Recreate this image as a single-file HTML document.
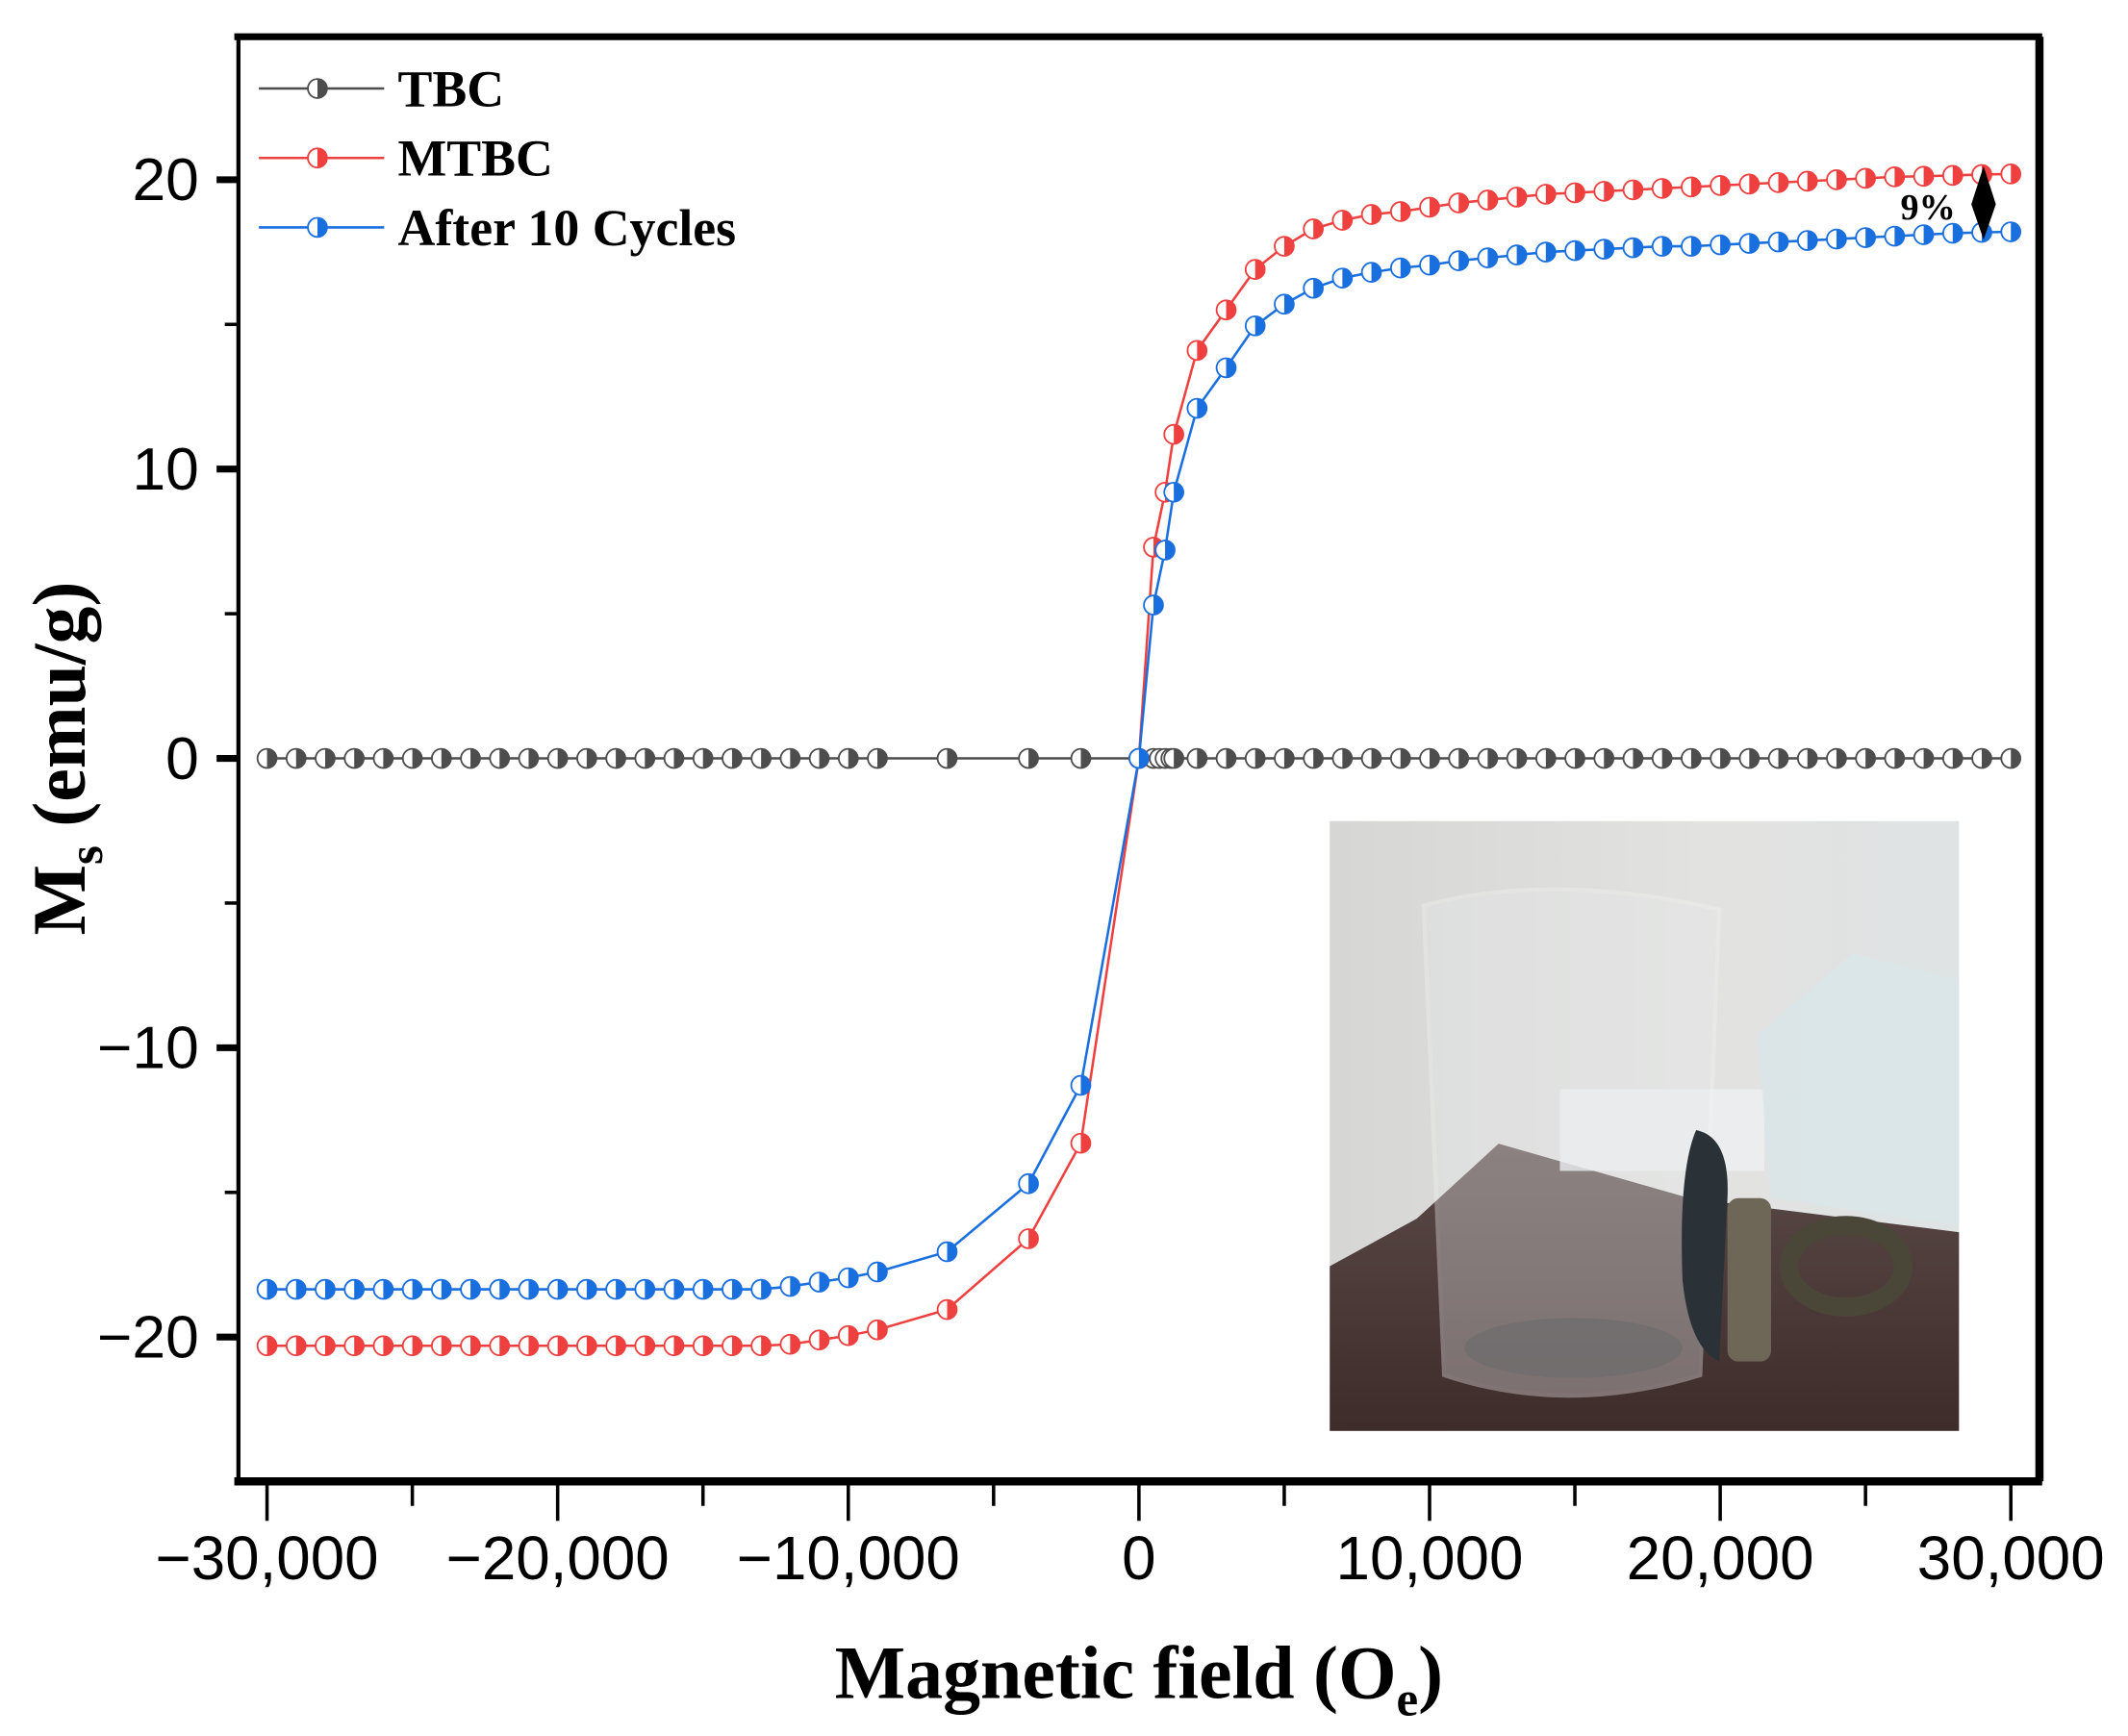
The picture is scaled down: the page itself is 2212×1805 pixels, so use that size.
<!DOCTYPE html>
<html><head><meta charset="utf-8"><style>
html,body{margin:0;padding:0;background:#fff;}
svg{display:block;}
</style></head><body>
<svg id="chart" width="2212" height="1805" viewBox="0 0 1562 1275" preserveAspectRatio="none" xmlns="http://www.w3.org/2000/svg">
<defs>
<linearGradient id="wall" x1="0" y1="0" x2="1" y2="0"><stop offset="0" stop-color="#d6d6d4"/><stop offset="0.6" stop-color="#e2e2e0"/><stop offset="1" stop-color="#dfe3e4"/></linearGradient>
<linearGradient id="table" x1="0" y1="0" x2="0" y2="1"><stop offset="0" stop-color="#5a4a48"/><stop offset="1" stop-color="#3e2c2a"/></linearGradient>
<clipPath id="photoClip"><rect x="976" y="603" width="462" height="448"/></clipPath>
</defs>
<g id="inset" clip-path="url(#photoClip)">
<rect x="976" y="603" width="462" height="448" fill="url(#wall)"/>
<polygon points="976,930 1040,895 1100,840 1240,880 1438,905 1438,1051 976,1051" fill="url(#table)"/>
<rect x="1145" y="800" width="150" height="60" fill="#eef0f2" opacity="0.8"/>
<polygon points="1290,760 1360,700 1438,720 1438,900 1300,880" fill="#d9e6ea" opacity="0.8"/>
<path d="M1045,665 Q1140,640 1262,668 L1248,1010 Q1150,1040 1060,1010 Z" fill="#e8eaec" opacity="0.35" stroke="#f4f4f4" stroke-width="3"/>
<ellipse cx="1155" cy="990" rx="80" ry="22" fill="#6a6a6c" opacity="0.6"/>
<path d="M1245,830 Q1270,835 1268,880 L1262,1000 Q1240,990 1235,940 Q1232,860 1245,830 Z" fill="#2a3238"/>
<rect x="1268" y="880" width="32" height="120" rx="8" fill="#6e6656"/>
<ellipse cx="1355" cy="930" rx="42" ry="30" fill="none" stroke="#4a4638" stroke-width="14"/>
</g>
<g id="plot"></g>
<text x="836" y="1247" text-anchor="middle" font-family="Liberation Serif, serif" font-weight="bold" font-size="55">Magnetic field (O<tspan font-size="36" dy="13">e</tspan><tspan dy="-13">)</tspan></text>
<text transform="translate(62,557) rotate(-90)" text-anchor="middle" font-family="Liberation Serif, serif" font-weight="bold" font-size="55">M<tspan font-size="36" dy="13">s</tspan><tspan dy="-13"> (emu/g)</tspan></text>
<text x="1395" y="161" font-family="Liberation Serif, serif" font-weight="bold" font-size="27">9%</text>
<polygon points="1456,122 1465,150 1456,176 1447,150" fill="#000"/>
</svg>
<script>
const tbcX=[-30000,-29000,-28000,-27000,-26000,-25000,-24000,-23000,-22000,-21000,-20000,-19000,-18000,-17000,-16000,-15000,-14000,-13000,-12000,-11000,-10000,-9000,-6600,-3800,-2000,0,500,700,900,1100,1200,2000,3000,4000,5000,6000,7000,8000,9000,10000,11000,12000,13000,14000,15000,16000,17000,18000,19000,20000,21000,22000,23000,24000,25000,26000,27000,28000,29000,30000];
const tbcY=tbcX.map(()=>0);
const commonX=[-30000,-29000,-28000,-27000,-26000,-25000,-24000,-23000,-22000,-21000,-20000,-19000,-18000,-17000,-16000,-15000,-14000,-13000,-12000,-11000,-10000,-9000,-6600,-3800,-2000,0,500,900,1200,2000,3000,4000,5000,6000,7000,8000,9000,10000,11000,12000,13000,14000,15000,16000,17000,18000,19000,20000,21000,22000,23000,24000,25000,26000,27000,28000,29000,30000];
const mtbcY=[-20.3,-20.3,-20.3,-20.3,-20.3,-20.3,-20.3,-20.3,-20.3,-20.3,-20.3,-20.3,-20.3,-20.3,-20.3,-20.3,-20.3,-20.3,-20.25,-20.1,-19.95,-19.75,-19.05,-16.6,-13.3,0,7.3,9.2,11.2,14.1,15.5,16.9,17.7,18.3,18.6,18.8,18.9,19.05,19.2,19.3,19.4,19.5,19.55,19.6,19.65,19.7,19.75,19.8,19.85,19.9,19.95,20.0,20.05,20.1,20.12,20.15,20.18,20.2];
const cycY=[-18.35,-18.35,-18.35,-18.35,-18.35,-18.35,-18.35,-18.35,-18.35,-18.35,-18.35,-18.35,-18.35,-18.35,-18.35,-18.35,-18.35,-18.35,-18.25,-18.1,-17.95,-17.75,-17.05,-14.7,-11.3,0,5.3,7.2,9.2,12.1,13.5,14.95,15.7,16.25,16.6,16.8,16.95,17.05,17.2,17.3,17.4,17.5,17.55,17.6,17.65,17.7,17.7,17.75,17.8,17.85,17.9,17.95,18.0,18.05,18.1,18.15,18.18,18.2];
const xTicks=[-30000,-20000,-10000,0,10000,20000,30000];
const xTickLabels=["\u221230,000","\u221220,000","\u221210,000","0","10,000","20,000","30,000"];
const yTicks=[-20,-10,0,10,20];
const yTickLabels=["\u221220","\u221210","0","10","20"];
const NS="http://www.w3.org/2000/svg";
const L=175,R=1497,T=27,B=1088;
function sx(v){return 836+v*(1475-195)/60000;}
function sy(v){return 557-v*(983-133)/40;}
const g=document.getElementById('plot');
function mk(tag,at,parent){const e=document.createElementNS(NS,tag);for(const k in at)e.setAttribute(k,at[k]);(parent||g).appendChild(e);return e;}
let fr=mk('rect',{x:L,y:T,width:R-L,height:B-T,fill:'none',stroke:'#000','stroke-width':3});


let bl=mk('line',{x1:L-3,x2:R+2,y1:B,y2:B,stroke:'#000','stroke-width':6});


let tl=mk('line',{x1:L-3,x2:R+2,y1:T,y2:T,stroke:'#000','stroke-width':5});


let rl=mk('line',{x1:R,x2:R,y1:T,y2:B,stroke:'#000','stroke-width':6});


for(let v=-30000;v<=30000;v+=5000){const major=v%10000===0;
 const t=mk('line',{x1:sx(v),x2:sx(v),y1:B,y2:B+(major?29:18),stroke:'#000','stroke-width':2.5});
 
 }
xTicks.forEach((v,i)=>{const t=mk('text',{x:sx(v),y:1160,'text-anchor':'middle','font-family':'Liberation Sans, sans-serif','font-size':45});t.textContent=xTickLabels[i];
 
 });
for(let v=-20;v<=20;v+=5){const major=v%10===0;
 const t=mk('line',{x1:L,x2:L-(major?16:10),y1:sy(v),y2:sy(v),stroke:'#000','stroke-width':major?5:2.5});
 
 }
yTicks.forEach((v,i)=>{const t=mk('text',{x:146,y:sy(v)+15,'text-anchor':'end','font-family':'Liberation Sans, sans-serif','font-size':44});t.textContent=yTickLabels[i];
 
 });
function marker(cx,cy,col,parent){
 mk('circle',{cx:cx,cy:cy,r:7,fill:'#fff',stroke:col,'stroke-width':1.3},parent);
 mk('path',{d:`M${cx},${cy-7} A7,7 0 0 1 ${cx},${cy+7} Z`,fill:col},parent);
}
function series(xs,ys,col,name){
 const grp=mk('g',{});
 
 
 mk('polyline',{points:xs.map((x,i)=>sx(x)+','+sy(ys[i])).join(' '),fill:'none',stroke:col,'stroke-width':1.8},grp);
 xs.forEach((x,i)=>{const m=mk('g',{},grp);
  
  
  marker(sx(x),sy(ys[i]),col,m);});
}
series(tbcX,tbcY,'#4d4d4d','series-tbc');
series(commonX,mtbcY,'#ef4040','series-mtbc');
series(commonX,cycY,'#1a6fdf','series-after-10-cycles');
const leg=[['TBC','#4d4d4d',65],['MTBC','#ef4040',116],['After 10 Cycles','#1a6fdf',167]];
leg.forEach(l=>{const e=mk('g',{});
 
 
 mk('line',{x1:190,x2:282,y1:l[2],y2:l[2],stroke:l[1],'stroke-width':1.8},e);
 marker(233,l[2],l[1],e);
 const t=mk('text',{x:292,y:l[2]+13,'font-family':'Liberation Serif, serif','font-weight':'bold','font-size':38},e);t.textContent=l[0];});
</script>
</body></html>
